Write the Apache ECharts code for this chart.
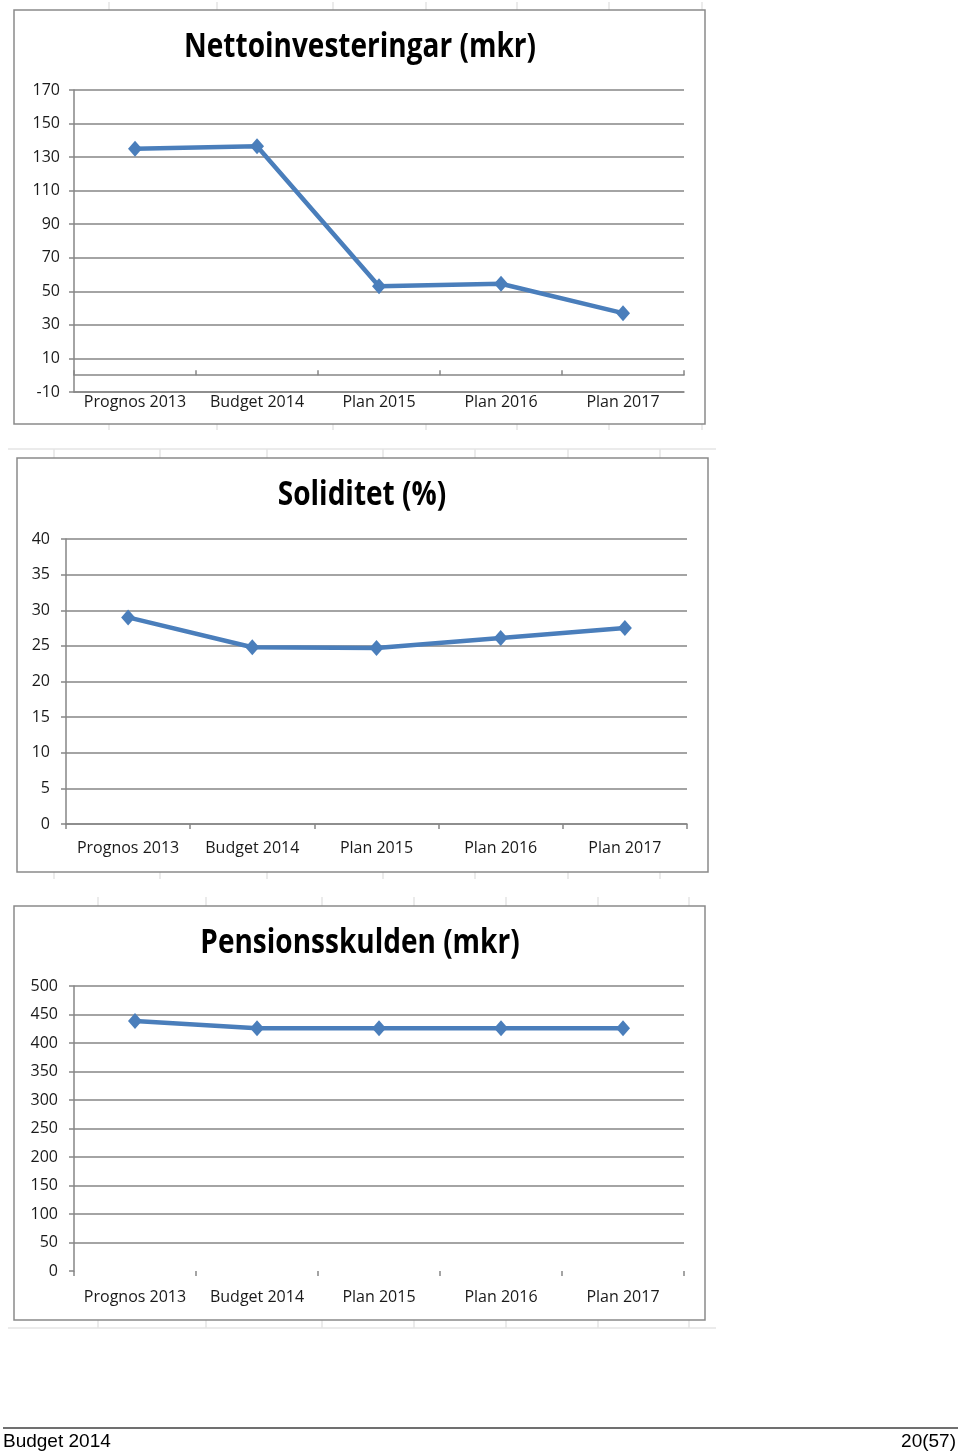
<!DOCTYPE html>
<html>
<head>
<meta charset="utf-8">
<title>Budget 2014</title>
<script src="https://cdn.jsdelivr.net/npm/echarts@6/dist/echarts.min.js"></script>
<style>
  html, body { margin: 0; padding: 0; background: #fff; }
  #chart { width: 960px; height: 1453px; }
</style>
</head>
<body>
<div id="chart"></div>
<script>
  // data
  const categories = ['Prognos 2013', 'Budget 2014', 'Plan 2015', 'Plan 2016', 'Plan 2017']
  const nettoinvesteringar = [135, 136.5, 53, 54.5, 37]
  const soliditet = [29, 24.8, 24.7, 26.1, 27.5]
  const pensionsskulden = [438.5, 426, 426, 426, 426]

  const titles = ['Nettoinvesteringar (mkr)', 'Soliditet (%)', 'Pensionsskulden (mkr)']

  const lineBlue = '#4A7EBB'
  const gridGrey = '#868686'
  const labelFont = 'Open Sans'

  const chart = echarts.init(document.getElementById('chart'))

  function valueAxis(gridIndex, min, max, interval, margin, splitColor) {
    return {
      type: 'value',
      gridIndex: gridIndex,
      min: min,
      max: max,
      interval: interval,
      axisLine: { show: true, lineStyle: { color: gridGrey, width: 1.5 } },
      axisTick: { show: true, length: 5, lineStyle: { color: gridGrey, width: 1.5 } },
      axisLabel: { color: '#1a1a1a', fontSize: 16, fontFamily: labelFont, margin: margin },
      splitLine: { show: true, showMinLine: true, showMaxLine: true, lineStyle: { color: splitColor || gridGrey, width: 1.5 } }
    }
  }

  function categoryAxis(gridIndex, opts) {
    return Object.assign({
      type: 'category',
      gridIndex: gridIndex,
      data: categories,
      boundaryGap: true,
      axisLine: { show: true, onZero: false, lineStyle: { color: gridGrey, width: 1.5 } },
      axisTick: { show: true, length: 5, alignWithLabel: false, lineStyle: { color: gridGrey, width: 1.5 } },
      axisLabel: { show: true, color: '#1a1a1a', fontSize: 16, fontFamily: labelFont, margin: 16, interval: 0 },
      splitLine: { show: false }
    }, opts)
  }

  function lineSeries(xi, yi, data) {
    return {
      type: 'line',
      xAxisIndex: xi,
      yAxisIndex: yi,
      data: data,
      symbol: 'diamond',
      symbolSize: [14, 16],
      lineStyle: { color: lineBlue, width: 4.5 },
      itemStyle: { color: lineBlue },
      animation: false
    }
  }

  function title(text, x, y) {
    return {
      type: 'text', x: x, y: y, scaleY: 1.2,
      style: { text: text, fill: '#000', fontSize: 28, fontWeight: 'bold', fontFamily: labelFont, align: 'center', verticalAlign: 'middle' }
    }
  }

  function frame(x, y) {
    return { type: 'rect', shape: { x: x, y: y, width: 691, height: 414 }, style: { fill: 'transparent', stroke: '#8a8a8a', lineWidth: 1.5 }, z: -1 }
  }

  // faint spreadsheet cell lines around the charts
  function cellLine(x1, y1, x2, y2) {
    return { type: 'line', shape: { x1: x1, y1: y1, x2: x2, y2: y2 }, style: { stroke: '#e4e4e4', lineWidth: 1.5 }, z: -2 }
  }
  const cellMarks = [
    cellLine(8, 449, 716, 449),
    cellLine(8, 1328, 716, 1328)
  ]
  ;[109, 217, 333, 426, 517, 609, 702].forEach(function (x) {
    cellMarks.push(cellLine(x, 2, x, 10))
    cellMarks.push(cellLine(x, 424, x, 430))
  })
  ;[54, 160, 267, 383, 475, 568, 660].forEach(function (x) {
    cellMarks.push(cellLine(x, 449, x, 458))
    cellMarks.push(cellLine(x, 872, x, 879))
  })
  ;[98, 206, 322, 414, 506, 598, 689].forEach(function (x) {
    cellMarks.push(cellLine(x, 897, x, 906))
    cellMarks.push(cellLine(x, 1320, x, 1328))
  })

  // chart 3 has no line drawn at 0
  const pensionSplit = ['rgba(0,0,0,0)'].concat(new Array(10).fill(gridGrey))

  chart.setOption({
    animation: false,
    grid: [
      { left: 74, top: 90, width: 610, height: 302, outerBoundsMode: 'none' },
      { left: 66, top: 539, width: 621, height: 285, outerBoundsMode: 'none' },
      { left: 74, top: 986, width: 610, height: 285, outerBoundsMode: 'none' }
    ],
    xAxis: [
      // chart 1: labels and bottom line at -10, axis line with ticks crossing at zero
      categoryAxis(0, {
        axisLine: { show: true, onZero: false, lineStyle: { color: gridGrey, width: 1.5 } },
        axisTick: { show: false },
        axisLabel: { show: true, color: '#1a1a1a', fontSize: 16, fontFamily: labelFont, margin: 2, interval: 0 }
      }),
      categoryAxis(0, {
        axisLine: { show: true, onZero: true, lineStyle: { color: gridGrey, width: 1.5 } },
        axisLabel: { show: false }
      }),
      categoryAxis(1, {}),
      categoryAxis(2, {
        axisLine: { show: false, onZero: false },
        axisLabel: { show: true, color: '#1a1a1a', fontSize: 16, fontFamily: labelFont, margin: 18, interval: 0 }
      })
    ],
    yAxis: [
      valueAxis(0, -10, 170, 20, 14),
      valueAxis(1, 0, 40, 5, 16),
      valueAxis(2, 0, 500, 50, 16, pensionSplit)
    ],
    series: [
      lineSeries(0, 0, nettoinvesteringar),
      lineSeries(2, 1, soliditet),
      lineSeries(3, 2, pensionsskulden)
    ],
    graphic: cellMarks.concat([
      frame(14, 10),
      frame(17, 458),
      frame(14, 906),
      title(titles[0], 360, 47),
      title(titles[1], 362, 495),
      title(titles[2], 360, 943),
      // page footer
      { type: 'line', shape: { x1: 3, y1: 1428, x2: 958, y2: 1428 }, style: { stroke: '#707070', lineWidth: 2 } },
      { type: 'text', x: 3, y: 1442, style: { text: 'Budget 2014', fill: '#000', fontSize: 19, fontFamily: 'Liberation Sans', align: 'left', verticalAlign: 'middle' } },
      { type: 'text', x: 956, y: 1442, style: { text: '20(57)', fill: '#000', fontSize: 19, fontFamily: 'Liberation Sans', align: 'right', verticalAlign: 'middle' } }
    ])
  })
</script>
</body>
</html>
